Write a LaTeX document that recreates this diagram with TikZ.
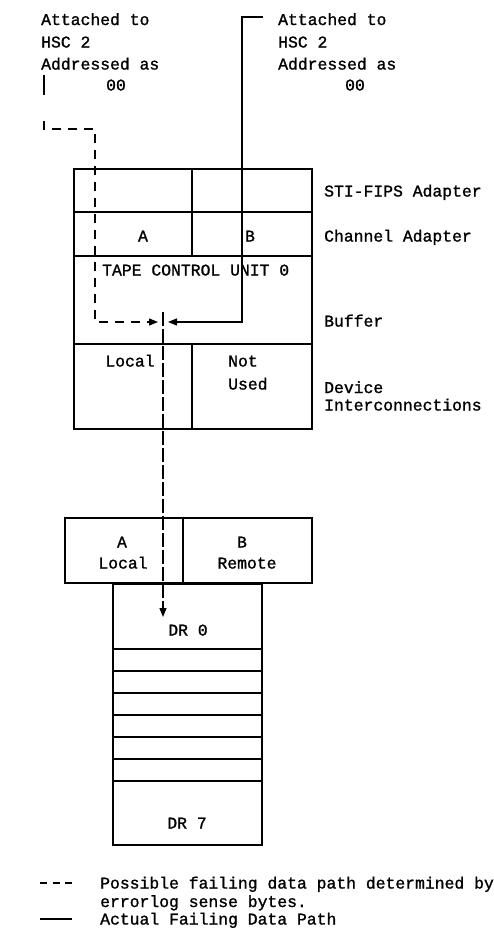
\documentclass[tikz,border=0pt]{standalone}
\usepackage{fontspec}
\setmainfont{Liberation Mono}[FakeBold=1.2]
\usetikzlibrary{arrows.meta}
\newcommand{\lblfont}{\fontsize{16.4}{18}\selectfont}
\tikzset{
  cell/.style={draw, line width=1.4pt, inner sep=0pt},
  txt/.style={font=\lblfont, inner sep=0pt, anchor=base},
  txtw/.style={font=\lblfont, inner sep=0pt, anchor=base west},
  solidpath/.style={line width=1.3pt},
  dashpath/.style={line width=1.3pt, dash pattern=on 20pt off 26pt on 9pt off 7pt on 9pt off 7pt on 9pt off 7pt on 9pt off 7pt on 9pt off 7pt on 9pt off 7pt on 9pt off 7pt on 9pt off 7pt on 9pt off 7pt on 9pt off 7pt on 9pt off 7pt on 9pt off 7pt on 9pt off 7pt on 9pt off 7pt on 9pt off 7pt on 9pt off 7pt on 9pt off 7pt on 9pt off 7pt on 9pt off 7pt on 9pt off 7pt on 9pt off 7pt on 9pt off 7pt},
  longdash/.style={line width=1.3pt, dash pattern=on 14pt off 3pt},
  tip/.style={-{Triangle[length=9pt,width=7pt]}}
}
\begin{document}
\begin{tikzpicture}[x=1pt,y=-1pt]
\useasboundingbox (0,0) rectangle (494,945);
\fill[white] (0,0) rectangle (494,945);

% header labels
\node[txtw] (l1) at (41,25) {Attached to};
\node[txtw] (l2) at (41,47.5) {HSC 2};
\node[txtw] (l3) at (41,69.5) {Addressed as};
\node[txt] (l4) at (116,90.5) {00};
\node[txtw] (r1) at (278,25) {Attached to};
\node[txtw] (r2) at (278,47.5) {HSC 2};
\node[txtw] (r3) at (278,69.5) {Addressed as};
\node[txt] (r4) at (355,90.5) {00};

% tape control unit box
\node[cell, minimum width=118pt, minimum height=43pt] (stiA) at (133,190.5) {};
\node[cell, minimum width=120pt, minimum height=43pt] (stiB) at (252,190.5) {};
\node[cell, minimum width=118pt, minimum height=44pt] (chA) at (133,234) {};
\node[cell, minimum width=120pt, minimum height=44pt] (chB) at (252,234) {};
\node[cell, minimum width=238pt, minimum height=88pt] (tcu) at (193,300) {};
\node[cell, minimum width=118pt, minimum height=85pt] (devL) at (133,386.5) {};
\node[cell, minimum width=120pt, minimum height=85pt] (devR) at (252,386.5) {};

\node[txt] (tA) at (143,241.5) {A};
\node[txt] (tB) at (250,241.5) {B};
\node[txtw] (ttcu) at (102,275.5) {TAPE CONTROL UNIT 0};
\node[txt] (tloc) at (130,366.5) {Local};
\node[txtw] (tnot) at (228,366.5) {Not};
\node[txtw] (tused) at (228,389.5) {Used};

% right labels
\node[txtw] (lsti) at (324,196.5) {STI-FIPS Adapter};
\node[txtw] (lch) at (324,241.5) {Channel Adapter};
\node[txtw] (lbuf) at (324,326.5) {Buffer};
\node[txtw] (ldev) at (324,393) {Device};
\node[txtw] (lint) at (324,410.5) {Interconnections};

% drive head box
\node[cell, minimum width=118pt, minimum height=65pt] (hA) at (124,550.5) {};
\node[cell, minimum width=129pt, minimum height=65pt] (hB) at (247.5,550.5) {};
\node[txt] (thA) at (122,547.5) {A};
\node[txt] (thL) at (123,568.5) {Local};
\node[txt] (thB) at (242,547.5) {B};
\node[txt] (thR) at (247,568.5) {Remote};

% drive stack
\node[cell, minimum width=149pt, minimum height=65pt] (dr0) at (187.5,616.5) {};
\foreach \i in {0,...,5} {
  \node[cell, minimum width=149pt, minimum height=22pt] (s\i) at (187.5,660+22*\i) {};
}
\node[cell, minimum width=149pt, minimum height=64pt] (dr7) at (187.5,813) {};
\node[txt] (tdr0) at (188,635.5) {DR 0};
\node[txt] (tdr7) at (187,828.5) {DR 7};

% connectors
\coordinate (ls) at (44,75);
\coordinate (lc1) at (44,129);
\coordinate (lc2) at (95,129);
\coordinate (lc3) at (95,322);
\coordinate (ltip) at (158,322);
\draw[dashpath, tip] (ls) -- (lc1) -- (lc2) -- (lc3) -- (ltip);

\coordinate (rs) at (263,17);
\coordinate (rc1) at (242,17);
\coordinate (rc2) at (242,322);
\coordinate (rtip) at (168,322);
\draw[solidpath, tip] (rs) -- (rc1) -- (rc2) -- (rtip);

\coordinate (ds) at (163,312);
\coordinate (dtip) at (163,617);
\draw[longdash, tip] (ds) -- (dtip);

% legend
\coordinate (g1a) at (40,883);
\coordinate (g1b) at (72,883);
\draw[line width=1.3pt, dash pattern=on 7pt off 5.5pt] (g1a) -- (g1b);
\coordinate (g2a) at (40,919);
\coordinate (g2b) at (72,919);
\draw[solidpath] (g2a) -- (g2b);
\node[txtw] (leg1) at (100,888.5) {Possible failing data path determined by};
\node[txtw] (leg2) at (100,907) {errorlog sense bytes.};
\node[txtw] (leg3) at (100,924.5) {Actual Failing Data Path};
\end{tikzpicture}
\end{document}
